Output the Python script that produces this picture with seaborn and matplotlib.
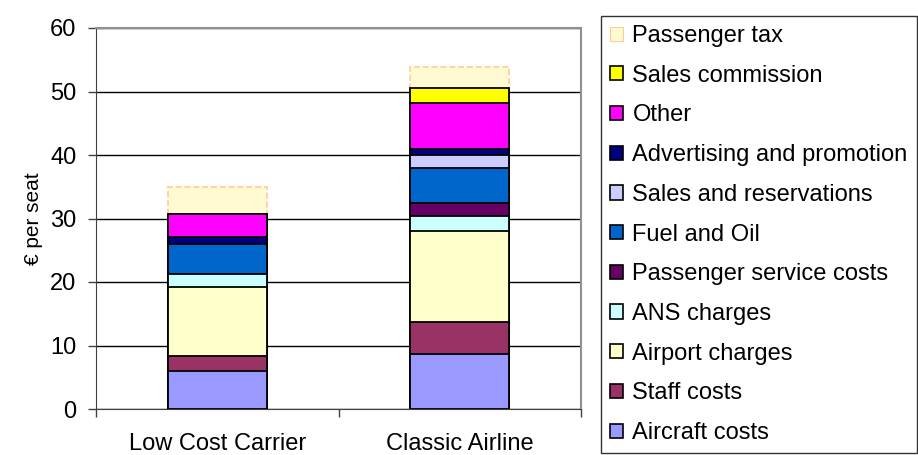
import matplotlib
matplotlib.use("Agg")
import matplotlib.pyplot as plt
import numpy as np
import pandas as pd
import seaborn as sns
from matplotlib.patches import Patch

# data (EUR per seat)
carriers = ["Low Cost Carrier", "Classic Airline"]
segments = ["Aircraft costs", "Staff costs", "Airport charges", "ANS charges",
            "Passenger service costs", "Fuel and Oil", "Sales and reservations",
            "Advertising and promotion", "Other", "Sales commission",
            "Passenger tax"]
low_cost = [6.0, 2.4, 10.8, 2.0, 0.0, 4.8, 0.0, 1.1, 3.6, 0.0, 4.3]
classic = [8.6, 5.1, 14.4, 2.3, 2.1, 5.5, 2.0, 1.0, 7.2, 2.3, 3.4]
colors = ["#9999FF", "#993366", "#FFFFCC", "#CCFFFF", "#660066", "#0066CC",
          "#CCCCFF", "#000080", "#FF00FF", "#FFFF00", "#FFFAD2"]

sns.set_style("white")
plt.rcParams["font.family"] = ["Liberation Sans", "DejaVu Sans"]
plt.rcParams["text.color"] = "black"
plt.rcParams["xtick.color"] = "black"
plt.rcParams["ytick.color"] = "black"
plt.rcParams["axes.labelcolor"] = "black"

df = pd.DataFrame({"carrier": np.repeat(carriers, len(segments)),
                   "segment": segments * len(carriers),
                   "value": low_cost + classic})
df["cum"] = df.groupby("carrier")["value"].cumsum()

fig = plt.figure(figsize=(9.18, 4.55), dpi=100)
ax = fig.add_axes([96 / 918, 1 - 409 / 455, (581 - 96) / 918, (409 - 28) / 455])

# stacked bars: draw cumulative totals from the top segment down
for i in range(len(segments) - 1, -1, -1):
    sub = df[df["segment"] == segments[i]]
    if segments[i] == "Passenger tax":
        kw = dict(edgecolor="#FFCC99", linewidth=1.2, linestyle="--")
    else:
        kw = dict(edgecolor="black", linewidth=1.3)
    sns.barplot(data=sub, x="carrier", y="cum", order=carriers, color=colors[i],
                width=0.41, saturation=1, ax=ax, zorder=3, **kw)

ax.set_ylim(0, 60)
ax.set_xlim(-0.5, 1.5)
ax.set_yticks(range(0, 61, 10))
ax.yaxis.grid(True, color="black", linewidth=1, zorder=0)
ax.set_axisbelow(True)
ax.tick_params(axis="y", labelsize=17, length=6, width=1, color="#404040",
               labelcolor="black", left=True, pad=8)

ax.set_xticks([-0.5, 0.5, 1.5])
ax.set_xticklabels([])
ax.set_xticks([0, 1], minor=True)
ax.set_xticklabels(carriers, minor=True)
ax.tick_params(axis="x", which="major", length=6, width=1, color="#404040",
               bottom=True)
ax.tick_params(axis="x", which="minor", length=0, labelsize=17, pad=17,
               labelcolor="black")
ax.set_xlabel("")
ax.set_ylabel("€ per seat", fontsize=15, labelpad=5, color="black")

for side in ["top", "right"]:
    ax.spines[side].set_color("#909090")
    ax.spines[side].set_linewidth(1.5)
ax.spines["left"].set_color("#404040")
ax.spines["bottom"].set_color("#404040")

handles = []
for seg, col in zip(segments[::-1], colors[::-1]):
    if seg == "Passenger tax":
        handles.append(Patch(facecolor=col, edgecolor="#FFCC99", linewidth=0.8))
    else:
        handles.append(Patch(facecolor=col, edgecolor="black", linewidth=1.2))
leg = fig.legend(handles, segments[::-1], loc="upper left",
                 bbox_to_anchor=(601 / 918, 1 - 16 / 455), fontsize=17,
                 frameon=True, fancybox=False, handlelength=0.55,
                 handleheight=0.55, handletextpad=0.4, labelspacing=0.75,
                 borderpad=0.38, borderaxespad=0)
leg.get_frame().set_edgecolor("black")
leg.get_frame().set_linewidth(1)
for t in leg.get_texts():
    t.set_color("black")

fig.savefig("out.png", dpi=100)
